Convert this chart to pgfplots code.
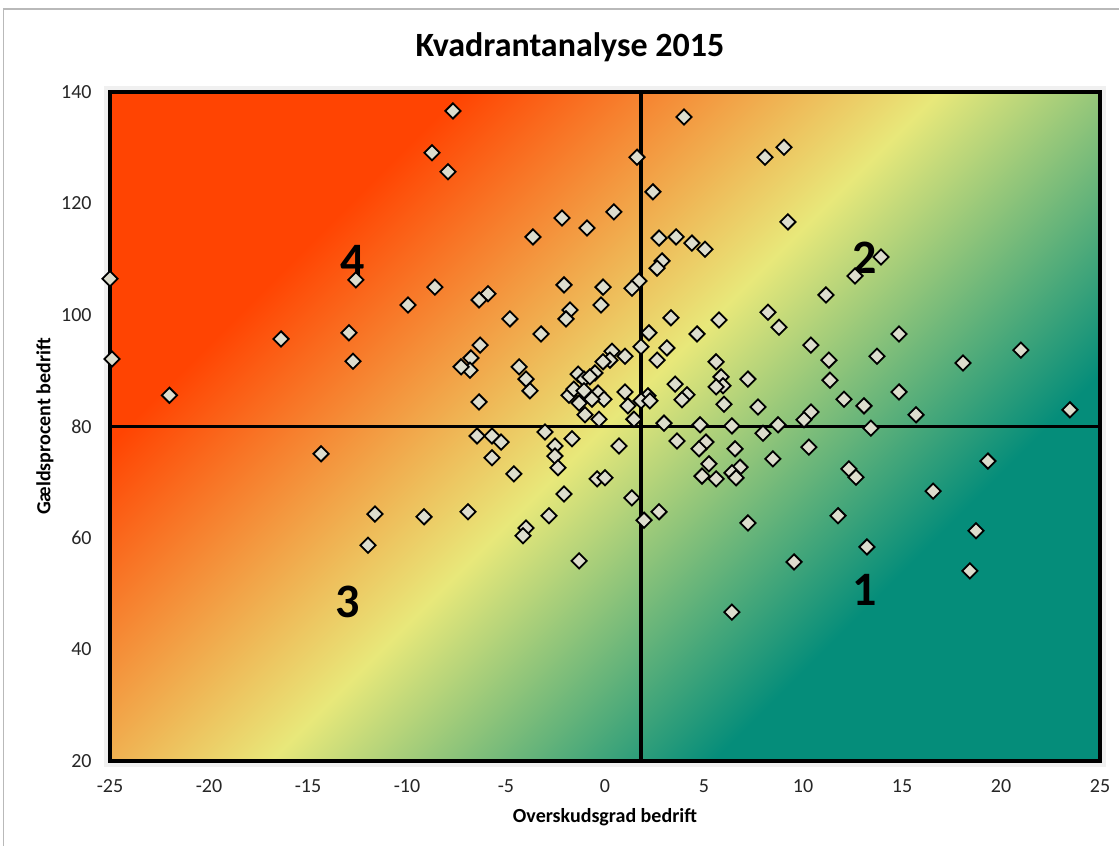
\documentclass[border=0pt]{standalone}
\usepackage{pgfplots}
\pgfplotsset{compat=1.18}
\usepackage{fontspec}
\setmainfont{Carlito}
\definecolor{qred}{RGB}{255,68,2}
\definecolor{qyel}{RGB}{232,232,122}
\definecolor{qteal}{RGB}{5,141,122}
\definecolor{mkfill}{RGB}{221,221,205}
\pgfdeclarehorizontalshading{quadshade}{100bp}{color(0bp)=(qred); color(29.5bp)=(qred); color(50bp)=(qyel); color(69bp)=(qteal); color(100bp)=(qteal)}
\pgfplotstableread{
x y
-7.68 136.6
3.99 135.5
9.04 130.1
-8.74 129.1
1.62 128.3
8.08 128.3
-7.93 125.7
2.42 122.1
0.45 118.5
-2.17 117.4
-0.91 115.6
9.24 116.7
-3.64 114.0
2.73 113.8
3.59 114.0
4.39 112.9
5.05 111.8
13.94 110.4
2.88 109.7
2.63 108.4
12.63 107.0
-25.0 106.5
-12.58 106.3
1.72 106.1
1.36 104.8
-8.59 105.0
-2.07 105.4
-0.10 105.0
11.16 103.6
-5.91 103.8
-6.36 102.7
-9.95 101.8
-0.20 101.8
-1.77 100.9
-1.97 99.3
-4.80 99.3
5.76 99.1
8.23 100.5
3.33 99.5
8.79 97.8
-12.93 96.8
-3.23 96.6
2.22 96.8
4.65 96.6
14.85 96.6
-16.36 95.7
-6.31 94.6
3.13 94.1
1.82 94.3
10.40 94.6
21.0 93.7
0.35 93.5
13.74 92.6
1.01 92.6
0.25 91.9
-0.10 91.6
-24.9 92.1
-12.73 91.7
-6.77 92.3
11.31 91.9
2.63 91.9
5.61 91.6
18.08 91.4
-6.82 90.1
-7.27 90.7
-4.34 90.7
-1.36 89.4
-1.06 88.5
-0.51 89.6
-0.76 88.9
-3.99 88.5
5.86 88.9
7.22 88.5
11.36 88.3
-3.79 86.4
3.54 87.6
5.96 87.3
5.61 87.1
14.85 86.2
-1.82 85.6
-1.57 86.7
-1.06 86.4
-0.35 86.0
-0.05 84.9
-0.66 84.9
-22.0 85.6
4.14 85.7
3.89 84.8
2.17 85.5
1.82 84.6
2.27 84.6
1.01 86.2
-6.36 84.4
-1.31 84.2
6.01 84.0
7.73 83.5
13.08 83.7
15.71 82.1
23.48 83.0
10.40 82.6
1.16 83.7
-1.01 82.1
10.05 81.2
-0.30 81.3
1.46 81.3
12.07 84.9
8.74 80.3
2.98 80.6
4.80 80.3
6.41 80.1
13.43 79.7
-3.03 79.0
7.98 78.8
-6.46 78.3
-5.71 78.3
-1.67 77.8
-5.25 77.2
3.64 77.4
5.10 77.2
10.30 76.3
-2.53 76.5
0.71 76.5
4.75 76.0
6.57 76.0
-2.53 74.7
-5.71 74.4
8.48 74.2
19.34 73.8
-2.37 72.6
5.25 73.3
6.82 72.7
12.32 72.4
12.68 70.9
6.41 71.7
-4.60 71.5
4.90 71.1
5.61 70.6
-0.40 70.6
0.0 70.8
6.62 70.8
16.57 68.4
1.36 67.2
-2.07 67.9
-6.92 64.7
-11.62 64.3
-9.14 63.8
-2.83 64.0
2.73 64.7
11.77 64.0
1.97 63.2
7.22 62.7
-3.99 61.8
18.74 61.3
-4.14 60.4
-11.97 58.7
13.23 58.4
-1.31 55.9
9.55 55.7
18.43 54.1
6.41 46.7
-14.34 75.1
}\pointdata
\begin{document}
\begin{tikzpicture}
\fill[white] (-55pt,-42.5pt) rectangle (504.5pt,380.5pt);
\useasboundingbox (-55pt,-42.5pt) rectangle (504.5pt,380.5pt);
\draw[gray!55, line width=0.8pt] (-53.25pt,-42.5pt) -- (-53.25pt,376pt) -- (504.5pt,376pt);
\fill[black, opacity=0.06] (-3pt,-3pt) rectangle (498pt,337.5pt);
\node[anchor=base, font=\bfseries\fontsize{17}{20}\selectfont] at (230pt,352pt) {Kvadrantanalyse 2015};
\begin{axis}[
  at={(0pt,0pt)}, anchor=south west,
  scale only axis, width=495pt, height=334.5pt,
  xmin=-25, xmax=25, ymin=20, ymax=140,
  xtick={-25,-20,...,25}, ytick={20,40,...,140},
  axis line style={line width=1.6pt},
  major tick length=0pt,
  tick label style={font=\fontsize{10}{12}\selectfont, text=black!85},
  /pgf/number format/assume math mode=true,
  xticklabel style={anchor=north, inner sep=0pt, yshift=-9pt},
  yticklabel style={anchor=east, inner sep=0pt, xshift=-9pt},
  axis background/.style={shade, shading=quadshade, shading angle=-45},
  clip=false,
  xlabel={\textbf{Overskudsgrad bedrift}},
  ylabel={\textbf{Gældsprocent bedrift}},
  xlabel style={at={(axis description cs:0.5,-0.0912)}, anchor=base, font=\fontsize{10}{12}\selectfont},
  ylabel style={at={(axis description cs:-0.0657,0.5)}, anchor=center, font=\fontsize{10}{12}\selectfont},
]
\addplot[black, line width=1.6pt] coordinates {(1.82,20) (1.82,140)};
\addplot[black, line width=1.6pt] coordinates {(-25,80) (25,80)};
\addplot[only marks, mark=square*, mark size=2.7pt, mark options={rotate=45, fill=mkfill, draw=black, line width=0.9pt}] table[x=x, y=y] {\pointdata};
\node[font=\bfseries\fontsize{24}{28}\selectfont] at (axis cs:-12.73,109.7) {4};
\node[font=\bfseries\fontsize{24}{28}\selectfont] at (axis cs:13.11,110.2) {2};
\node[font=\bfseries\fontsize{24}{28}\selectfont] at (axis cs:-13.0,48.5) {3};
\node[font=\bfseries\fontsize{24}{28}\selectfont] at (axis cs:13.11,50.6) {1};
\end{axis}
\end{tikzpicture}
\end{document}
